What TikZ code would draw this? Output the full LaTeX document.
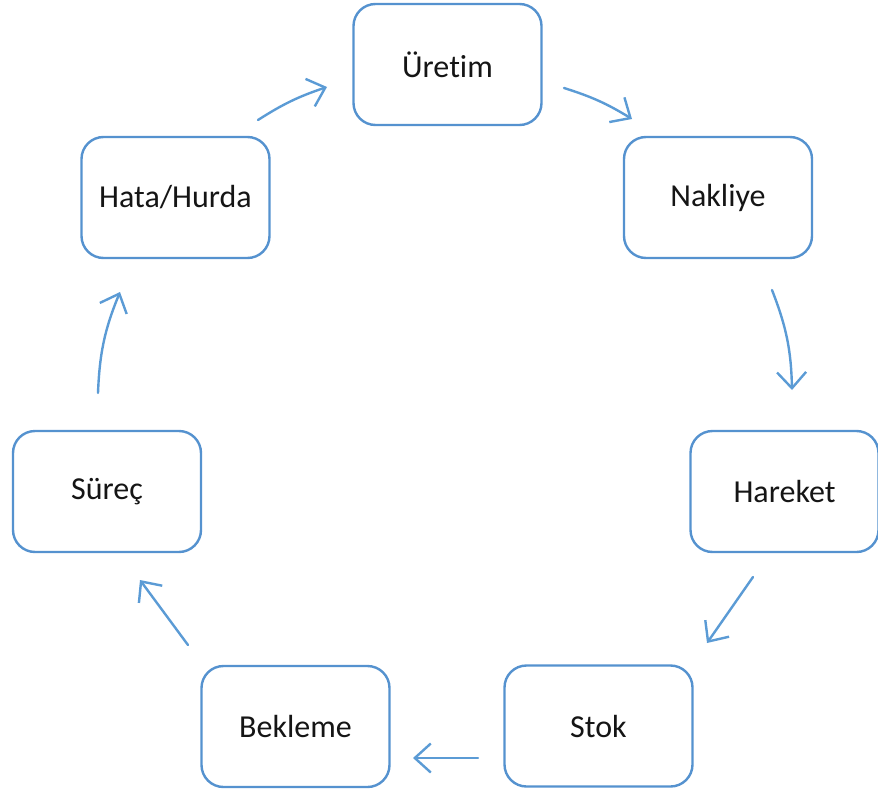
\documentclass[tikz,border=0pt]{standalone}
\usepackage{fontspec}
\setmainfont{Carlito}[Ligatures=NoCommon]
\usetikzlibrary{arrows.meta}
\definecolor{boxline}{HTML}{5592CF}
\definecolor{arrowline}{HTML}{5B9BD5}
\definecolor{labeltext}{HTML}{151515}
\tikzset{
  stepbox/.style={draw=boxline, line width=2.4pt, fill=white, rounded corners=22pt,
    minimum width=188pt, minimum height=121pt, inner sep=0pt,
    text=labeltext, font=\fontsize{32}{38}\selectfont},
  flow/.style={draw=arrowline, line width=2.4pt, line cap=round,
    -{Straight Barb[length=16pt, width=29pt, line width=2.4pt]}}
}
\begin{document}
\begin{tikzpicture}[x=1pt, y=1pt]
  \useasboundingbox (0,0) rectangle (878,-792);

  % process steps
  \node[stepbox] (uretim)  at (447.5,-64.5)  {Üretim};
  \node[stepbox] (nakliye) at (718,-197.5)   {Nakliye};
  \node[stepbox] (hareket) at (784.5,-491.5) {Hareket};
  \node[stepbox] (stok)    at (598.5,-726)   {Stok};
  \node[stepbox] (bekleme) at (295.5,-726.5) {Bekleme};
  \node[stepbox] (surec)   at (107,-491.5)   {Süreç};
  \node[stepbox] (hata)    at (175.5,-197.5) {Hata/Hurda};

  % arrow end points between neighbouring steps
  \coordinate (h2u-s) at (258,-120);  \coordinate (h2u-e) at (327,-87);
  \coordinate (u2n-s) at (564,-88);   \coordinate (u2n-e) at (632,-119);
  \coordinate (n2h-s) at (772,-290);  \coordinate (n2h-e) at (792,-390);
  \coordinate (h2s-s) at (753,-577);  \coordinate (h2s-e) at (707,-643);
  \coordinate (s2b-s) at (478,-758);  \coordinate (s2b-e) at (413,-758);
  \coordinate (b2s-s) at (188,-645);  \coordinate (b2s-e) at (140,-580);
  \coordinate (s2h-s) at (98,-393);   \coordinate (s2h-e) at (120,-292);

  % clockwise cycle
  \draw[flow] (h2u-s) to[bend left=7]  (h2u-e);
  \draw[flow] (u2n-s) to[bend left=7]  (u2n-e);
  \draw[flow] (n2h-s) to[bend left=10] (n2h-e);
  \draw[flow] (h2s-s) -- (h2s-e);
  \draw[flow] (s2b-s) -- (s2b-e);
  \draw[flow] (b2s-s) -- (b2s-e);
  \draw[flow] (s2h-s) to[bend left=10] (s2h-e);
\end{tikzpicture}
\end{document}
